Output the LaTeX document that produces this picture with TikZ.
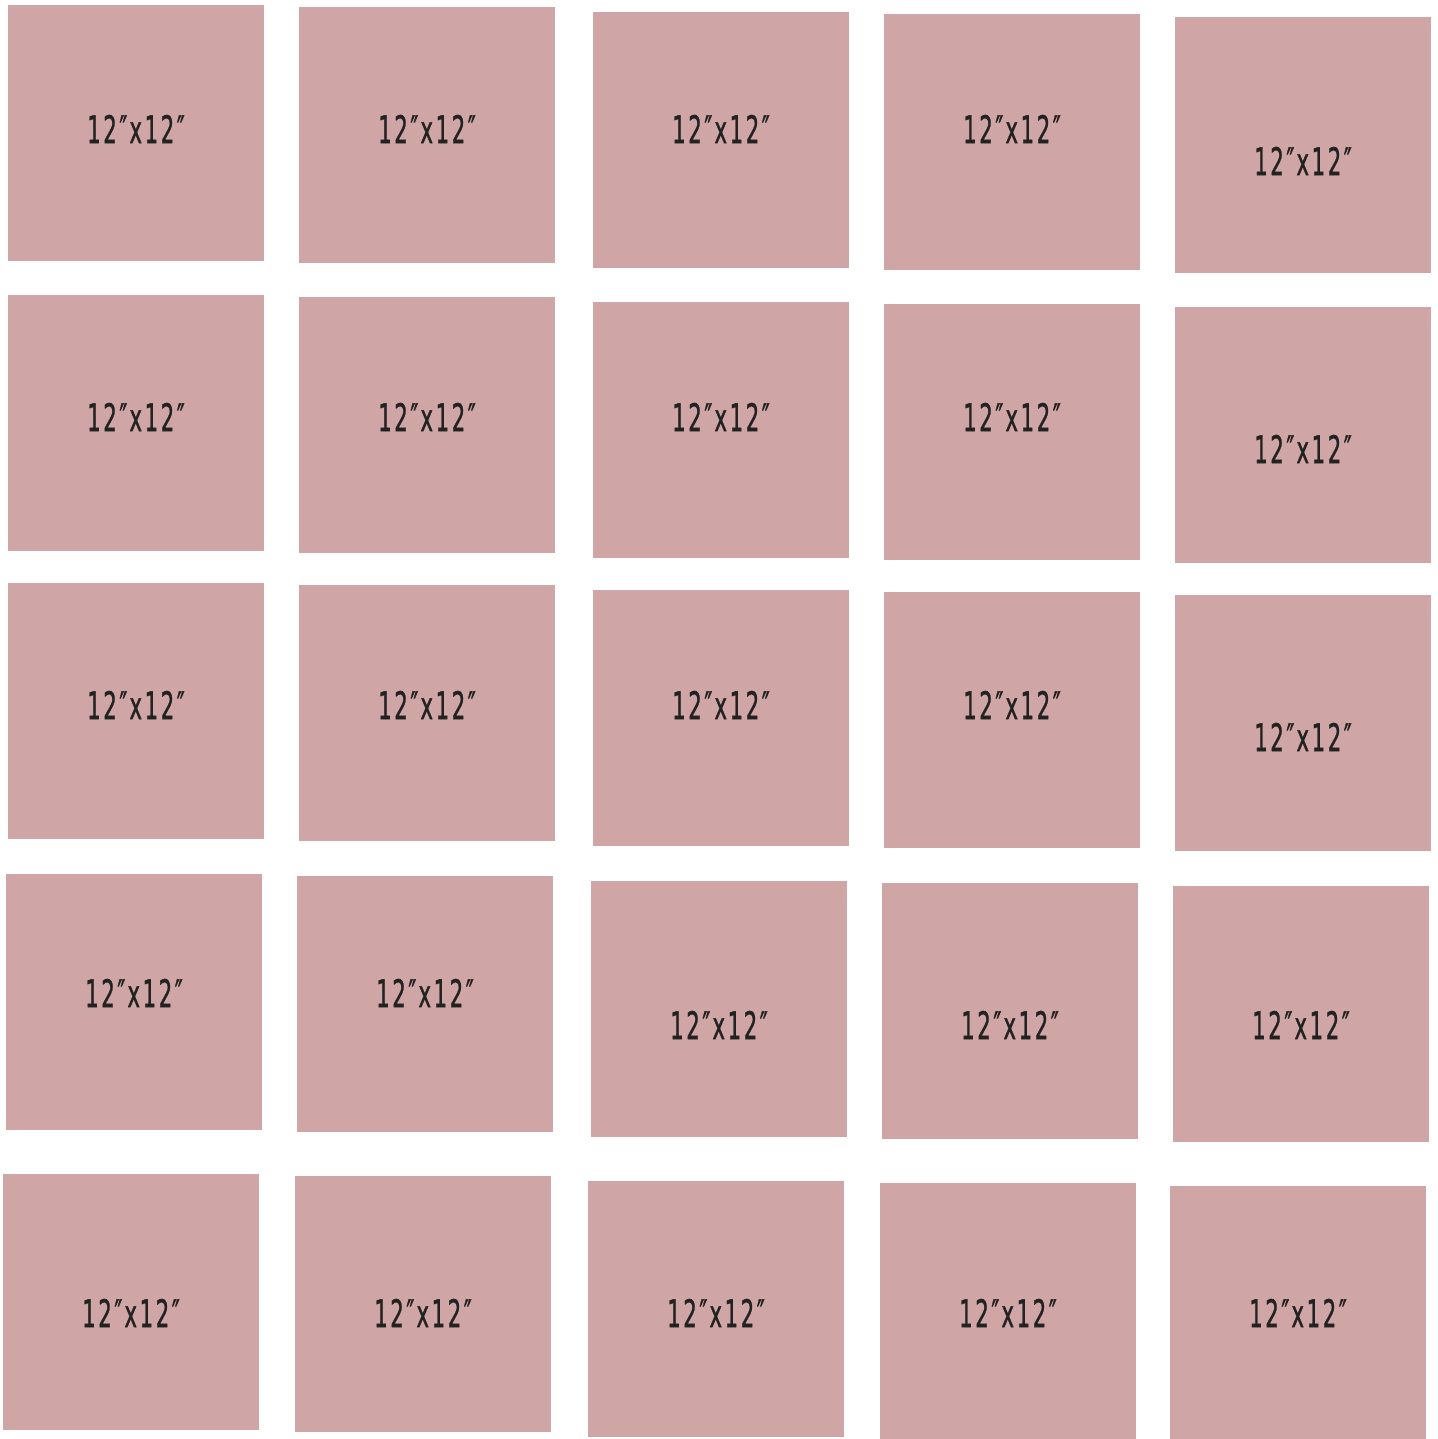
\documentclass[tikz,border=0pt]{standalone}
\usepackage{fontspec}
\setmainfont{DejaVu Sans}
\newfontfamily\labfont[FakeBold=1.3]{DejaVu Sans}
\definecolor{tilepink}{HTML}{CFA6A5}
\definecolor{labelink}{HTML}{222222}
\begin{document}
\begin{tikzpicture}[x=0.5pt,y=-0.5pt,
  tile/.style={fill=tilepink,draw=none,minimum width=128pt,minimum height=128pt,inner sep=0pt,outer sep=0pt},
  lbl/.style={text=labelink,inner sep=0pt,font=\labfont\fontsize{19}{19}\selectfont}]
\useasboundingbox (0,0) rectangle (1438,1439);
\newcommand{\lab}{\scalebox{0.56}[1]{1\hspace{0.12em}2\hspace{0.12em}″\hspace{0.1em}x\hspace{0.12em}1\hspace{0.12em}2\hspace{0.12em}″}}
% row 1
\node[tile] (t11) at (136,133) {};
\node[tile] (t12) at (427,135) {};
\node[tile] (t13) at (721,140) {};
\node[tile] (t14) at (1012,142) {};
\node[tile] (t15) at (1303,145) {};
% row 2
\node[tile] (t21) at (136,423) {};
\node[tile] (t22) at (427,425) {};
\node[tile] (t23) at (721,430) {};
\node[tile] (t24) at (1012,432) {};
\node[tile] (t25) at (1303,435) {};
% row 3
\node[tile] (t31) at (136,711) {};
\node[tile] (t32) at (427,713) {};
\node[tile] (t33) at (721,718) {};
\node[tile] (t34) at (1012,720) {};
\node[tile] (t35) at (1303,723) {};
% row 4
\node[tile] (t41) at (134,1002) {};
\node[tile] (t42) at (425,1004) {};
\node[tile] (t43) at (719,1009) {};
\node[tile] (t44) at (1010,1011) {};
\node[tile] (t45) at (1301,1014) {};
% row 5
\node[tile] (t51) at (131,1302) {};
\node[tile] (t52) at (423,1304) {};
\node[tile] (t53) at (716,1309) {};
\node[tile] (t54) at (1008,1311) {};
\node[tile] (t55) at (1298,1314) {};
% labels
\node[lbl] (l11) at (136,129) {\lab};
\node[lbl] (l12) at (427,129) {\lab};
\node[lbl] (l13) at (721,129) {\lab};
\node[lbl] (l14) at (1012,129) {\lab};
\node[lbl] (l15) at (1303,161) {\lab};
\node[lbl] (l21) at (136,417) {\lab};
\node[lbl] (l22) at (427,417) {\lab};
\node[lbl] (l23) at (721,417) {\lab};
\node[lbl] (l24) at (1012,417) {\lab};
\node[lbl] (l25) at (1303,449) {\lab};
\node[lbl] (l31) at (136,705) {\lab};
\node[lbl] (l32) at (427,705) {\lab};
\node[lbl] (l33) at (721,705) {\lab};
\node[lbl] (l34) at (1012,705) {\lab};
\node[lbl] (l35) at (1303,737) {\lab};
\node[lbl] (l41) at (134,993) {\lab};
\node[lbl] (l42) at (425,993) {\lab};
\node[lbl] (l43) at (719,1025) {\lab};
\node[lbl] (l44) at (1010,1025) {\lab};
\node[lbl] (l45) at (1301,1025) {\lab};
\node[lbl] (l51) at (131,1313) {\lab};
\node[lbl] (l52) at (423,1313) {\lab};
\node[lbl] (l53) at (716,1313) {\lab};
\node[lbl] (l54) at (1008,1313) {\lab};
\node[lbl] (l55) at (1298,1313) {\lab};
\end{tikzpicture}
\end{document}
